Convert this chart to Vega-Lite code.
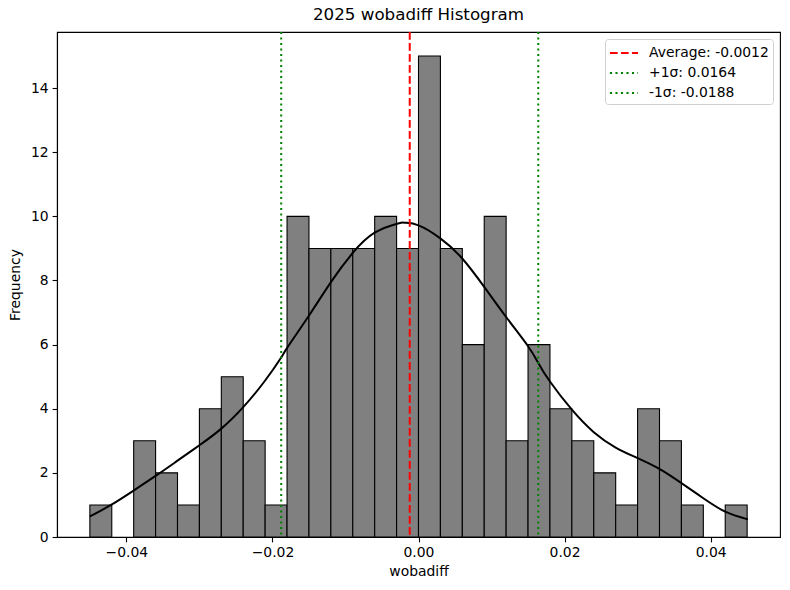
{
  "$schema": "https://vega.github.io/schema/vega-lite/v6.json",
  "autosize": "none",
  "width": 723,
  "height": 505,
  "padding": {"left": 57, "top": 32, "right": 10, "bottom": 53},
  "background": "white",
  "title": {"text": "2025 wobadiff Histogram", "fontSize": 16.7, "fontWeight": "normal", "font": "DejaVu Sans", "color": "black", "anchor": "middle", "offset": 7},
  "config": {
    "font": "DejaVu Sans",
    "view": {"stroke": "black", "strokeWidth": 1.1},
    "axis": {"grid": false, "domainColor": "black", "tickColor": "black", "labelColor": "black", "titleColor": "black", "labelFontSize": 13.9, "titleFontSize": 13.9, "titleFontWeight": "normal", "tickSize": 4.9, "domainWidth": 1.1, "tickWidth": 1.1, "labelFont": "DejaVu Sans", "titleFont": "DejaVu Sans"},
    "legend": {"labelFont": "DejaVu Sans"}
  },
  "datasets": {
    "bins": [
      {"bin_start": -0.045, "bin_end": -0.042, "count": 1},
      {"bin_start": -0.039, "bin_end": -0.036, "count": 3},
      {"bin_start": -0.036, "bin_end": -0.033, "count": 2},
      {"bin_start": -0.033, "bin_end": -0.030, "count": 1},
      {"bin_start": -0.030, "bin_end": -0.027, "count": 4},
      {"bin_start": -0.027, "bin_end": -0.024, "count": 5},
      {"bin_start": -0.024, "bin_end": -0.021, "count": 3},
      {"bin_start": -0.021, "bin_end": -0.018, "count": 1},
      {"bin_start": -0.018, "bin_end": -0.015, "count": 10},
      {"bin_start": -0.015, "bin_end": -0.012, "count": 9},
      {"bin_start": -0.012, "bin_end": -0.009, "count": 9},
      {"bin_start": -0.009, "bin_end": -0.006, "count": 9},
      {"bin_start": -0.006, "bin_end": -0.003, "count": 10},
      {"bin_start": -0.003, "bin_end": 0.000, "count": 9},
      {"bin_start": 0.000, "bin_end": 0.003, "count": 15},
      {"bin_start": 0.003, "bin_end": 0.006, "count": 9},
      {"bin_start": 0.006, "bin_end": 0.009, "count": 6},
      {"bin_start": 0.009, "bin_end": 0.012, "count": 10},
      {"bin_start": 0.012, "bin_end": 0.015, "count": 3},
      {"bin_start": 0.015, "bin_end": 0.018, "count": 6},
      {"bin_start": 0.018, "bin_end": 0.021, "count": 4},
      {"bin_start": 0.021, "bin_end": 0.024, "count": 3},
      {"bin_start": 0.024, "bin_end": 0.027, "count": 2},
      {"bin_start": 0.027, "bin_end": 0.030, "count": 1},
      {"bin_start": 0.030, "bin_end": 0.033, "count": 4},
      {"bin_start": 0.033, "bin_end": 0.036, "count": 3},
      {"bin_start": 0.036, "bin_end": 0.039, "count": 1},
      {"bin_start": 0.042, "bin_end": 0.045, "count": 1}
    ],
    "kde": [
      {"x": -0.0450, "y": 0.64},
      {"x": -0.0421, "y": 1.00},
      {"x": -0.0390, "y": 1.45},
      {"x": -0.0359, "y": 1.92},
      {"x": -0.0330, "y": 2.38},
      {"x": -0.0300, "y": 2.86},
      {"x": -0.0270, "y": 3.38},
      {"x": -0.0240, "y": 4.05},
      {"x": -0.0211, "y": 4.85},
      {"x": -0.0188, "y": 5.60},
      {"x": -0.0179, "y": 5.93},
      {"x": -0.0149, "y": 6.94},
      {"x": -0.0119, "y": 7.98},
      {"x": -0.0090, "y": 8.86},
      {"x": -0.0060, "y": 9.49},
      {"x": -0.0028, "y": 9.78},
      {"x": -0.0018, "y": 9.80},
      {"x": 0.0000, "y": 9.72},
      {"x": 0.0029, "y": 9.33},
      {"x": 0.0059, "y": 8.71},
      {"x": 0.0091, "y": 7.77},
      {"x": 0.0121, "y": 6.83},
      {"x": 0.0150, "y": 5.95},
      {"x": 0.0164, "y": 5.43},
      {"x": 0.0180, "y": 4.85},
      {"x": 0.0210, "y": 3.97},
      {"x": 0.0240, "y": 3.27},
      {"x": 0.0270, "y": 2.79},
      {"x": 0.0300, "y": 2.46},
      {"x": 0.0331, "y": 2.11},
      {"x": 0.0360, "y": 1.68},
      {"x": 0.0390, "y": 1.21},
      {"x": 0.0420, "y": 0.79},
      {"x": 0.0451, "y": 0.55}
    ],
    "vlines": [
      {"value": -0.0012, "label": "Average: -0.0012"},
      {"value": 0.0164, "label": "+1σ: 0.0164"},
      {"value": -0.0188, "label": "-1σ: -0.0188"}
    ]
  },
  "layer": [
    {
      "data": {"name": "bins"},
      "mark": {"type": "bar", "fill": "#808080", "stroke": "black", "strokeWidth": 1.1, "clip": true},
      "encoding": {
        "x": {"field": "bin_start", "type": "quantitative", "scale": {"domain": [-0.0495, 0.0495], "nice": false, "zero": false}, "axis": {"title": "wobadiff", "values": [-0.04, -0.02, 0, 0.02, 0.04], "labelExpr": "replace(format(datum.value, '.2f'), '-', '−')", "labelPadding": 4, "titlePadding": 5}},
        "x2": {"field": "bin_end"},
        "y": {"field": "count", "type": "quantitative", "scale": {"domain": [0, 15.75], "nice": false}, "axis": {"title": "Frequency", "values": [0, 2, 4, 6, 8, 10, 12, 14], "format": "d", "labelPadding": 4, "titlePadding": 8}},
        "y2": {"datum": 0}
      }
    },
    {
      "data": {"name": "kde"},
      "mark": {"type": "line", "color": "black", "strokeWidth": 2, "interpolate": "natural"},
      "encoding": {
        "x": {"field": "x", "type": "quantitative"},
        "y": {"field": "y", "type": "quantitative"}
      }
    },
    {
      "data": {"name": "vlines"},
      "mark": {"type": "rule", "strokeWidth": 2},
      "encoding": {
        "x": {"field": "value", "type": "quantitative"},
        "color": {"field": "label", "type": "nominal", "scale": {"domain": ["Average: -0.0012", "+1σ: 0.0164", "-1σ: -0.0188"], "range": ["#ff0000", "#008000", "#008000"]}, "legend": {"title": null, "orient": "top-right", "offset": 7, "symbolType": "M-1.56,0H1.56", "symbolSize": 324, "symbolStrokeWidth": 2, "symbolOffset": 5, "labelFontSize": 13.9, "labelColor": "black", "fillColor": "white", "strokeColor": "#d0d0d0", "cornerRadius": 3, "padding": 4, "rowPadding": 3, "labelOffset": 15}},
        "strokeDash": {"field": "label", "type": "nominal", "scale": {"domain": ["Average: -0.0012", "+1σ: 0.0164", "-1σ: -0.0188"], "range": [[7.7, 3.3], [2.1, 3.4], [2.1, 3.4]]}, "legend": {"title": null, "orient": "top-right", "offset": 7, "symbolType": "M-1.56,0H1.56", "symbolSize": 324, "symbolStrokeWidth": 2, "symbolOffset": 5, "labelFontSize": 13.9, "labelColor": "black", "fillColor": "white", "strokeColor": "#d0d0d0", "cornerRadius": 3, "padding": 4, "rowPadding": 3, "labelOffset": 15}}
      }
    }
  ]
}
